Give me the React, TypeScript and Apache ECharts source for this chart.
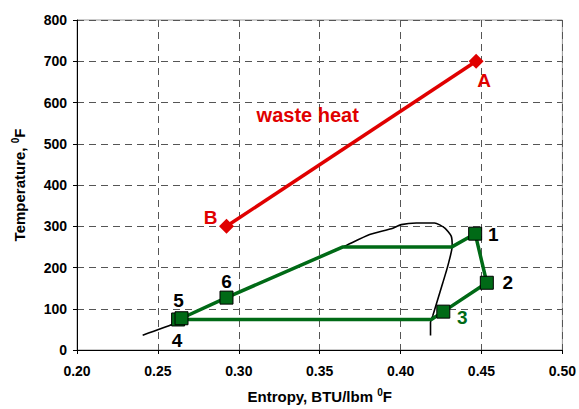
import React, { useEffect, useRef } from "react";
import * as echarts from "echarts";

// Organic Rankine cycle on T-s diagram
const cycleS = [0.4461, 0.4533, 0.4264, 0.419, 0.2625, 0.2646, 0.2924, 0.3644, 0.4317, 0.4461];
const cycleT = [282, 163, 93, 74, 74, 77, 127, 250, 250, 282];

const stateLabels = ["1", "2", "3", "4", "5", "6"];
const stateS = [0.4461, 0.4533, 0.4264, 0.2625, 0.2646, 0.2924];
const stateT = [282, 163, 93, 74, 77, 127];

const heatLabels = ["A", "B"];
const heatS = [0.4467, 0.2924];
const heatT = [700, 300];

const domeS = [0.2406, 0.2594, 0.2646, 0.2924, 0.3644, 0.3809, 0.3943, 0.4004, 0.4097, 0.421, 0.4272, 0.4313, 0.4319, 0.4292, 0.4261, 0.423, 0.4199, 0.4185, 0.4185];
const domeT = [36, 63, 76, 127, 250, 280, 294, 304, 308, 308, 296, 276, 252, 204, 163, 123, 83, 67, 35];

const noteText = ["waste heat"];
const noteS = [0.3426];
const noteT = [570];

const FONT = 'Arial, "Liberation Sans", sans-serif';
const GREEN = "#006a16";
const RED = "#e00000";

const stateOffsets: Array<[number, number]> = [
  [18, 1], [21, 0], [19, 6], [-1, 21], [-3, -18], [0, -16],
];
const heatOffsets: Array<[number, number]> = [
  [8, 19], [-16, -9],
];

export default function App() {
  const ref = useRef<HTMLDivElement>(null);
  useEffect(() => {
    document.body.style.margin = "0";
    document.body.style.overflow = "hidden";
    if (!ref.current) return;
    const chart = echarts.init(ref.current, null, { renderer: "svg" });
    const gridLine = { show: true, lineStyle: { color: "#555", type: [7, 5] as any, width: 1 } };
    const nameStyle = {
      fontFamily: FONT, fontWeight: "bold", fontSize: 15, color: "#000",
      rich: { sup: { fontFamily: FONT, fontWeight: "bold", fontSize: 10, color: "#000", padding: [0, 0, 9, 0] } },
    };
    chart.setOption({
      animation: false,
      backgroundColor: "#fff",
      textStyle: { fontFamily: FONT },
      grid: { left: 77, right: 16, top: 20, bottom: 58, show: true, borderColor: "#999", borderWidth: 1 },
      xAxis: {
        type: "value",
        min: 0.2,
        max: 0.5,
        interval: 0.05,
        name: "Entropy, BTU/lbm {sup|0}F",
        nameLocation: "middle",
        nameGap: 37,
        nameTextStyle: nameStyle,
        axisLine: { show: true, lineStyle: { color: "#000", width: 1 } },
        axisTick: { show: true, length: 4, lineStyle: { color: "#000" } },
        axisLabel: {
          fontFamily: FONT, fontWeight: "bold", fontSize: 14, color: "#000", margin: 14,
          formatter: (v: number) => v.toFixed(2),
        },
        splitLine: gridLine,
      },
      yAxis: {
        type: "value",
        min: 0,
        max: 800,
        interval: 100,
        name: "Temperature, {sup|0}F",
        nameLocation: "middle",
        nameGap: 48,
        nameTextStyle: nameStyle,
        axisLine: { show: true, lineStyle: { color: "#000", width: 1 } },
        axisTick: { show: true, length: 4, lineStyle: { color: "#000" } },
        axisLabel: { fontFamily: FONT, fontWeight: "bold", fontSize: 14, color: "#000", margin: 10 },
        splitLine: gridLine,
      },
      series: [
        {
          type: "line",
          name: "dome",
          data: domeS.map((s, i) => [s, domeT[i]]),
          showSymbol: false,
          symbol: "none",
          smooth: 0.2,
          lineStyle: { color: "#000", width: 1.6 },
          z: 2,
        },
        {
          type: "line",
          name: "waste heat",
          data: heatS.map((s, i) => ({
            value: [s, heatT[i]],
            label: {
              show: true, formatter: heatLabels[i], position: "inside", offset: heatOffsets[i],
              color: RED, fontFamily: FONT, fontWeight: "bold", fontSize: 19,
            },
          })),
          symbol: "diamond",
          symbolSize: 15,
          itemStyle: { color: RED, opacity: 1 },
          lineStyle: { color: RED, width: 3.5 },
          z: 3,
        },
        {
          type: "line",
          name: "cycle",
          data: cycleS.map((s, i) => [s, cycleT[i]]),
          showSymbol: false,
          symbol: "none",
          lineStyle: { color: GREEN, width: 3.5 },
          z: 3,
        },
        {
          type: "scatter",
          name: "states",
          data: stateS.map((s, i) => ({
            value: [s, stateT[i]],
            label: {
              show: true, formatter: stateLabels[i], position: "inside", offset: stateOffsets[i],
              color: i === 2 ? GREEN : "#000", fontFamily: FONT, fontWeight: "bold", fontSize: 19, opacity: 1,
            },
          })),
          symbol: "rect",
          symbolSize: 13,
          itemStyle: { color: GREEN, borderColor: "#000", borderWidth: 1, opacity: 1 },
          z: 4,
        },
        {
          type: "scatter",
          name: "notes",
          data: noteS.map((s, i) => ({
            value: [s, noteT[i]],
            label: {
              show: true, formatter: noteText[i], position: "inside",
              color: RED, fontFamily: FONT, fontWeight: "bold", fontSize: 20, opacity: 1,
            },
          })),
          symbolSize: 0,
          itemStyle: { opacity: 0 },
          z: 4,
        },
      ],
    });
    return () => chart.dispose();
  }, []);
  return <div ref={ref} style={{ width: 579, height: 409 }} />;
}
